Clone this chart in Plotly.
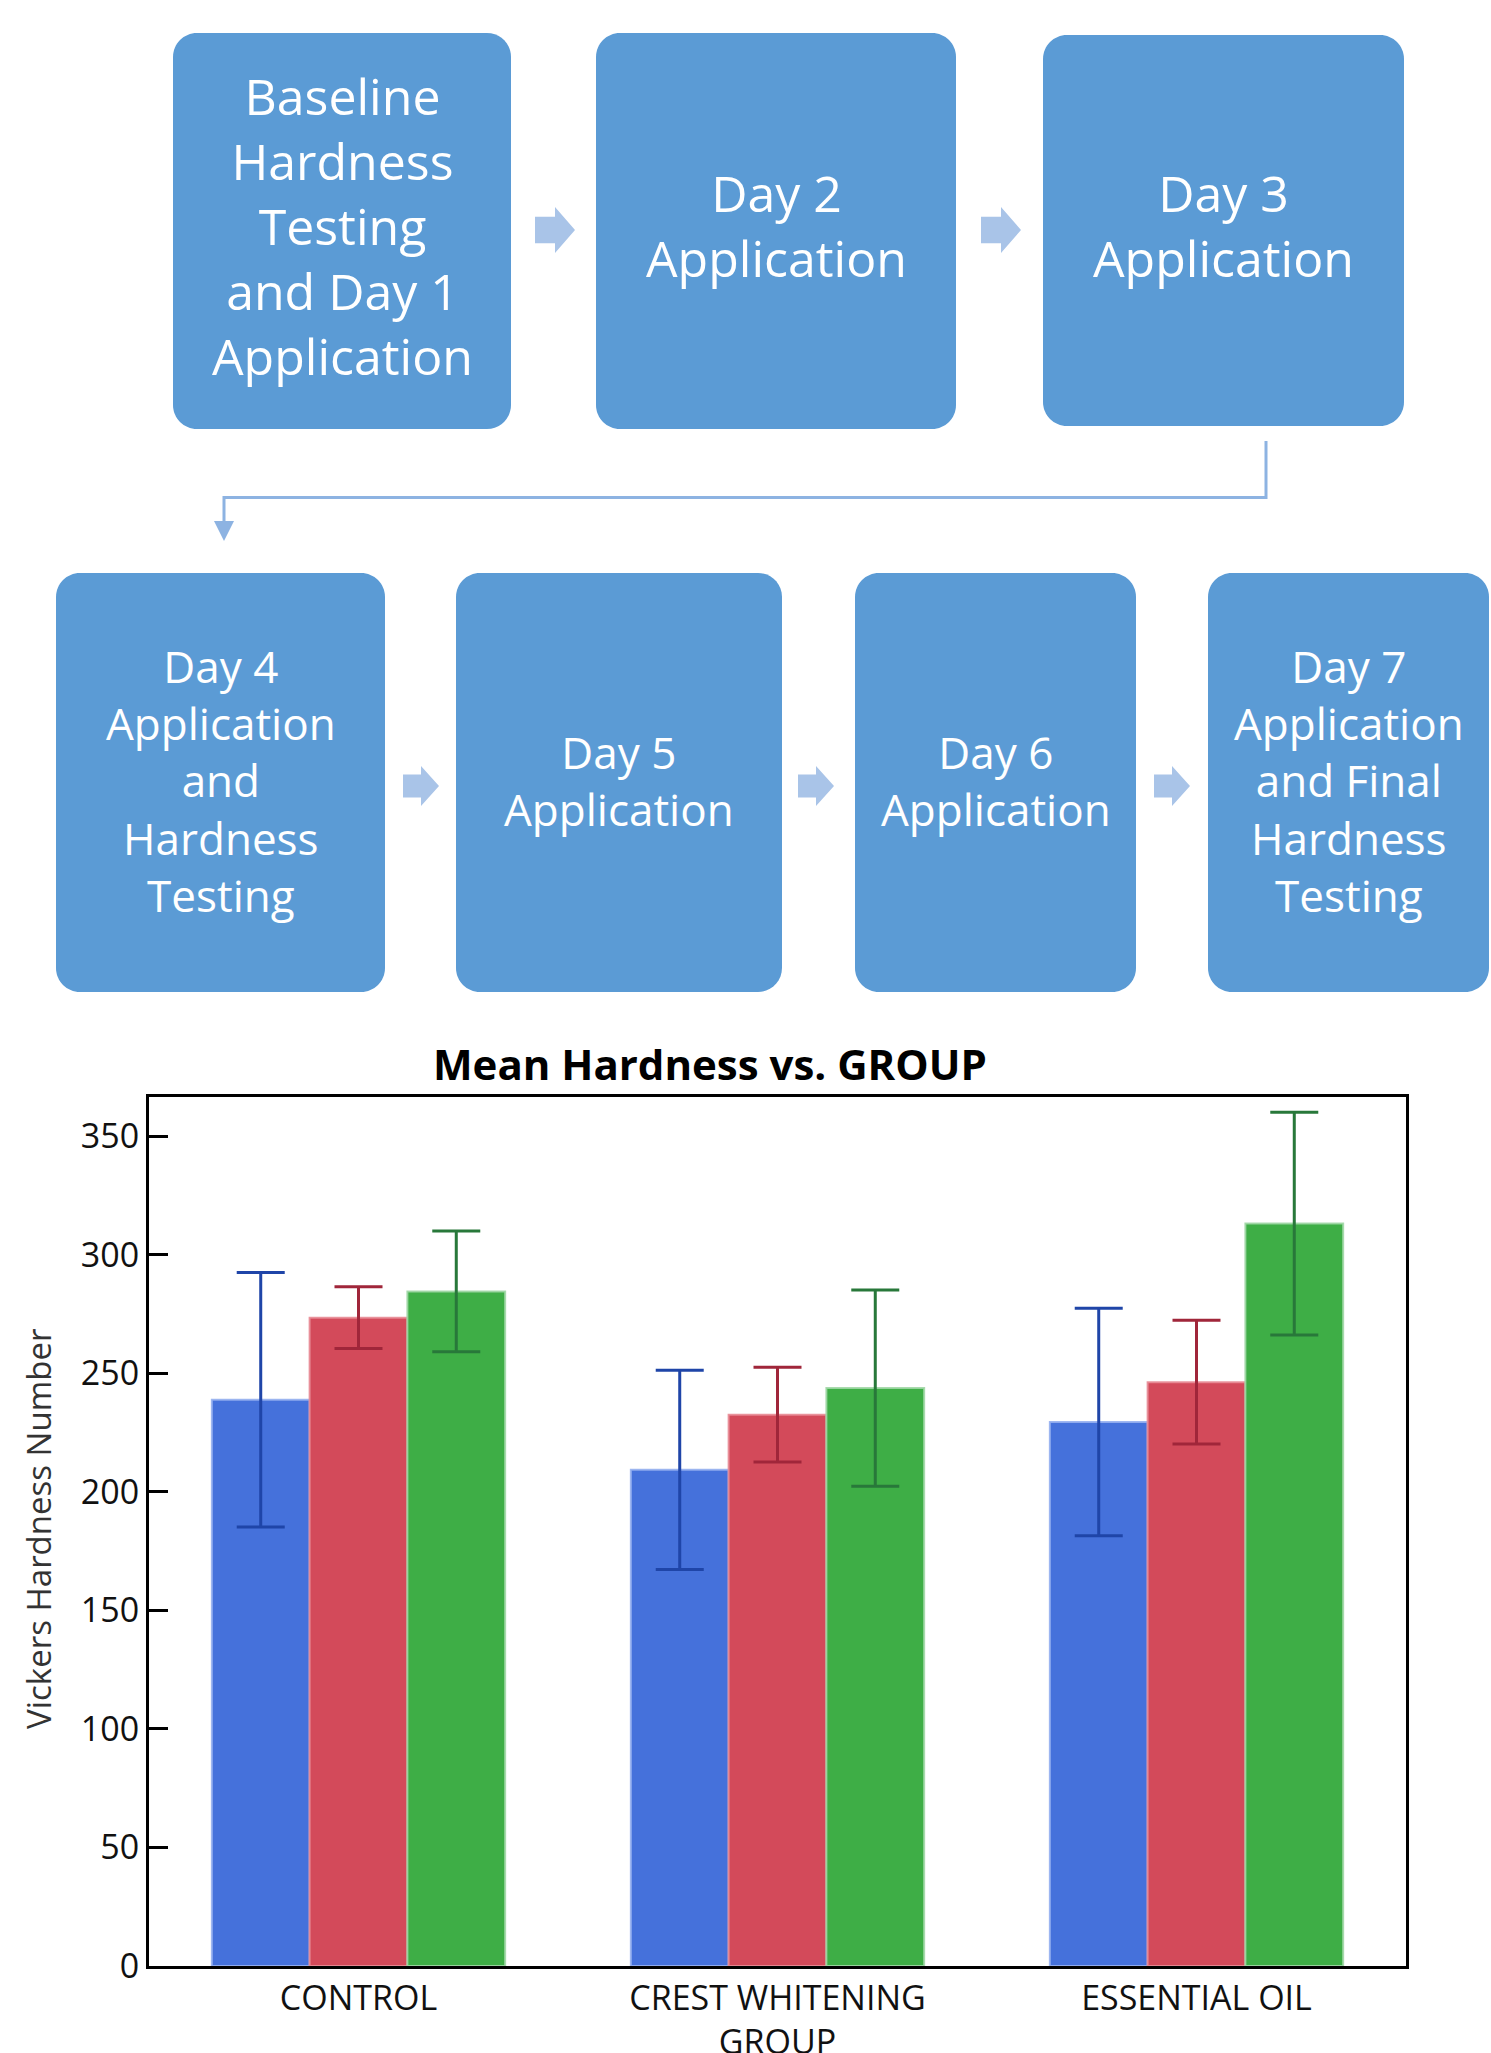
import plotly.graph_objects as go

# ---- chart data -------------------------------------------------------
groups = ["CONTROL", "CREST WHITENING<br>GROUP", "ESSENTIAL OIL"]
series_names = ["Baseline", "Day 4", "Day 7"]
baseline_mean = [238.9, 209.3, 229.5]
day4_mean = [273.5, 232.6, 246.3]
day7_mean = [284.6, 243.8, 313.2]
baseline_err = [53.7, 42.0, 48.0]
day4_err = [13.0, 20.0, 26.1]
day7_err = [25.5, 41.4, 47.0]

# ---- flowchart text ---------------------------------------------------
steps_row1 = [
    "Baseline<br>Hardness<br>Testing<br>and Day 1<br>Application",
    "Day 2<br>Application",
    "Day 3<br>Application",
]
steps_row2 = [
    "Day 4<br>Application<br>and<br>Hardness<br>Testing",
    "Day 5<br>Application",
    "Day 6<br>Application",
    "Day 7<br>Application<br>and Final<br>Hardness<br>Testing",
]

W, H = 1491, 2053
FONT = "Open Sans"


def px(x):
    return x / W


def py(y):
    return 1 - y / H


def rounded_rect(x0, y0, x1, y1, r):
    k = 0.5523 * r
    pts = [
        f"M {px(x0 + r)},{py(y0)}",
        f"L {px(x1 - r)},{py(y0)}",
        f"C {px(x1 - r + k)},{py(y0)} {px(x1)},{py(y0 + r - k)} {px(x1)},{py(y0 + r)}",
        f"L {px(x1)},{py(y1 - r)}",
        f"C {px(x1)},{py(y1 - r + k)} {px(x1 - r + k)},{py(y1)} {px(x1 - r)},{py(y1)}",
        f"L {px(x0 + r)},{py(y1)}",
        f"C {px(x0 + r - k)},{py(y1)} {px(x0)},{py(y1 - r + k)} {px(x0)},{py(y1 - r)}",
        f"L {px(x0)},{py(y0 + r)}",
        f"C {px(x0)},{py(y0 + r - k)} {px(x0 + r - k)},{py(y0)} {px(x0 + r)},{py(y0)}",
        "Z",
    ]
    return " ".join(pts)


def block_arrow(x0, cy, w, h):
    sh = 0.29 * h
    hh = 0.5 * h
    xm = x0 + 0.5 * w
    pts = [
        (x0, cy - sh), (xm, cy - sh), (xm, cy - hh), (x0 + w, cy),
        (xm, cy + hh), (xm, cy + sh), (x0, cy + sh),
    ]
    return "M " + " L ".join(f"{px(a)},{py(b)}" for a, b in pts) + " Z"


fig = go.Figure()

bar_colors = ["#4571DB", "#D34A5A", "#3EAE46"]
edge_colors = ["rgba(150,176,240,0.9)", "rgba(232,140,150,0.9)", "rgba(160,215,165,0.9)"]
err_colors = ["#1F45A8", "#A0263A", "#28783A"]
means = [baseline_mean, day4_mean, day7_mean]
errs = [baseline_err, day4_err, day7_err]

for name, m, e, c, ec, erc in zip(series_names, means, errs, bar_colors, edge_colors, err_colors):
    fig.add_trace(go.Bar(
        x=groups, y=m, name=name,
        marker=dict(color=c, line=dict(color=ec, width=2)),
        error_y=dict(type="data", array=e, visible=True, color=erc, thickness=3, width=24),
        showlegend=False,
    ))

shapes = []
ann = []

# flowchart boxes
box_color = "#5B9BD5"
row1_boxes = [(173, 33, 511, 429), (596, 33, 956, 429), (1043, 35, 1404, 426)]
row2_boxes = [(56, 573, 385, 992), (456, 573, 782, 992), (855, 573, 1136, 992), (1208, 573, 1489, 992)]

for (x0, y0, x1, y1), txt in zip(row1_boxes, steps_row1):
    shapes.append(dict(type="path", xref="paper", yref="paper", path=rounded_rect(x0, y0, x1, y1, 24),
                       fillcolor=box_color, line=dict(width=0), layer="above"))
    ann.append(dict(x=px((x0 + x1) / 2), y=py((y0 + y1) / 2 - 5), xref="paper", yref="paper",
                    text=txt, showarrow=False, xanchor="center", yanchor="middle", align="center",
                    font=dict(family=FONT, size=50, color="white")))

for (x0, y0, x1, y1), txt in zip(row2_boxes, steps_row2):
    shapes.append(dict(type="path", xref="paper", yref="paper", path=rounded_rect(x0, y0, x1, y1, 24),
                       fillcolor=box_color, line=dict(width=0), layer="above"))
    ann.append(dict(x=px((x0 + x1) / 2), y=py((y0 + y1) / 2 - 2), xref="paper", yref="paper",
                    text=txt, showarrow=False, xanchor="center", yanchor="middle", align="center",
                    font=dict(family=FONT, size=44, color="white")))

# arrows between steps
arrow_color = "#A9C4E8"
for x0 in (535, 981):
    shapes.append(dict(type="path", xref="paper", yref="paper", path=block_arrow(x0, 230, 40, 46),
                       fillcolor=arrow_color, line=dict(width=0)))
for x0 in (403, 798, 1154):
    shapes.append(dict(type="path", xref="paper", yref="paper", path=block_arrow(x0, 786, 36, 40),
                       fillcolor=arrow_color, line=dict(width=0)))

# elbow connector from row 1 to row 2
conn = "#8DB3E2"
shapes.append(dict(type="path", xref="paper", yref="paper",
                   path=f"M {px(1266)},{py(441)} L {px(1266)},{py(497.5)} L {px(224)},{py(497.5)} L {px(224)},{py(524)}",
                   line=dict(color=conn, width=3)))
shapes.append(dict(type="path", xref="paper", yref="paper",
                   path=f"M {px(214)},{py(521)} L {px(234)},{py(521)} L {px(224)},{py(541)} Z",
                   fillcolor=conn, line=dict(width=0)))

# chart title and y-axis title
ann.append(dict(x=px(710), y=py(1063), xref="paper", yref="paper",
                text="<b>Mean Hardness vs. GROUP</b>", showarrow=False,
                xanchor="center", yanchor="middle",
                font=dict(family=FONT, size=42, color="black")))
ann.append(dict(x=px(38), y=py(1529), xref="paper", yref="paper",
                text="Vickers Hardness Number", showarrow=False, textangle=-90,
                xanchor="center", yanchor="middle",
                font=dict(family=FONT, size=33, color="#333333")))

fig.update_layout(
    width=W, height=H,
    margin=dict(l=0, r=0, t=0, b=0),
    paper_bgcolor="white", plot_bgcolor="white",
    barmode="group", bargap=0.3, bargroupgap=0,
    shapes=shapes, annotations=ann,
    showlegend=False,
    xaxis=dict(
        domain=[px(149), px(1406)],
        showline=True, linecolor="black", linewidth=3, mirror=True,
        showgrid=False, ticks="", automargin=False,
        tickfont=dict(family=FONT, size=34, color="#111111"),
    ),
    yaxis=dict(
        domain=[py(1966), py(1097)],
        range=[0, 366.6],
        tickmode="array", tickvals=[0, 50, 100, 150, 200, 250, 300, 350],
        showline=True, linecolor="black", linewidth=3, mirror=True,
        showgrid=False, zeroline=False,
        ticks="inside", ticklen=19, tickwidth=2.5, tickcolor="black",
        automargin=False,
        tickfont=dict(family=FONT, size=34, color="#111111"),
    ),
)

fig.write_html("out.html")
